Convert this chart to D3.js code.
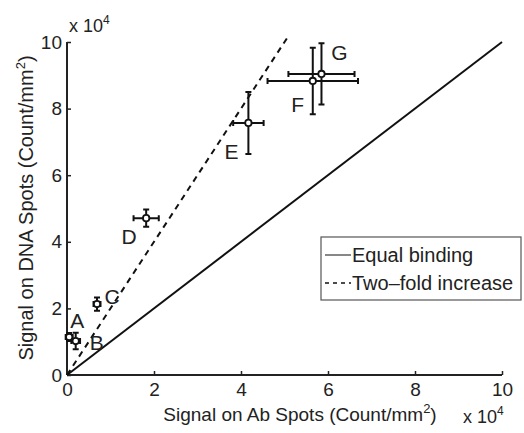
<!DOCTYPE html>
<html>
<head>
<meta charset="utf-8">
<script src="https://cdn.jsdelivr.net/npm/d3@7.9.0/dist/d3.min.js"></script>
<style>
  body { margin: 0; background: #fff; }
  text { font-family: "Liberation Sans", Arial, Helvetica, sans-serif; fill: #222; }
</style>
</head>
<body>
<div id="chart"></div>
<script>
// === Data (units of 1e4 counts/mm^2) ===
const labels = ["A", "B", "C", "D", "E", "F", "G"];
const abSignal = [0.05, 0.2, 0.69, 1.82, 4.17, 5.65, 5.85];
const dnaSignal = [1.14, 1.02, 2.13, 4.71, 7.57, 8.83, 9.04];
const abErr = [0.08, 0.1, 0.08, 0.29, 0.35, 1.04, 0.76];
const dnaErr = [0.12, 0.25, 0.2, 0.26, 0.93, 1.0, 0.92];
const xTicks = [0, 2, 4, 6, 8, 10];
const yTicks = [0, 2, 4, 6, 8, 10];
const equalLine = [[0, 0], [10, 10]];
const twoFoldLine = [[0, 0], [5.1, 10.2]];

// label offsets in px (style, not data)
const labelOffset = [[8, -15], [21, 3], [15, -6], [-17, 20], [-17, 31], [-15, 25], [18, -20]];

// === Chart setup ===
const W = 524, H = 433;
const x = d3.scaleLinear().domain([0, 10]).range([67, 502]);
const y = d3.scaleLinear().domain([0, 10]).range([375, 42]);

const svg = d3.select("#chart").append("svg")
    .attr("width", W).attr("height", H);

// axes (left and bottom only, ticks inward)
const xAxis = d3.axisBottom(x).tickValues(xTicks).tickSize(-4).tickPadding(8).tickFormat(d3.format("d"));
const yAxis = d3.axisLeft(y).tickValues(yTicks).tickSize(-4).tickPadding(5).tickFormat(d3.format("d"));

const gx = svg.append("g").attr("transform", `translate(0,${y(0)})`).call(xAxis);
const gy = svg.append("g").attr("transform", `translate(${x(0)},0)`).call(yAxis);
[gx, gy].forEach(g => {
    g.select(".domain").attr("stroke", "#222").attr("stroke-width", 2);
    g.selectAll(".tick line").attr("stroke", "#222").attr("stroke-width", 1.5);
    g.selectAll(".tick text").attr("font-size", 19).attr("fill", "#222")
        .style("font-family", "'Liberation Sans', Arial, sans-serif");
});
// remove domain end caps
gx.select(".domain").attr("d", `M${x(0)},0H${x(10)}`);
gy.select(".domain").attr("d", `M0,${y(10)}V${y(0)}`);

// reference lines
const line = d3.line().x(d => x(d[0])).y(d => y(d[1]));
svg.append("path").attr("d", line(equalLine))
    .attr("stroke", "#111").attr("stroke-width", 2).attr("fill", "none");
svg.append("path").attr("d", line(twoFoldLine))
    .attr("stroke", "#111").attr("stroke-width", 2).attr("stroke-dasharray", "6,5").attr("fill", "none");

// error bars
const pts = labels.map((l, i) => ({ l, x: abSignal[i], y: dnaSignal[i], ex: abErr[i], ey: dnaErr[i], off: labelOffset[i] }));
const cap = 3;
const eb = svg.append("g").attr("stroke", "#111").attr("stroke-width", 2).attr("fill", "none");
pts.forEach(d => {
    const cx = x(d.x), cy = y(d.y);
    const x0 = x(d.x - d.ex), x1 = x(d.x + d.ex);
    const y0 = y(d.y - d.ey), y1 = y(d.y + d.ey);
    eb.append("path").attr("d",
        `M${x0},${cy}H${x1}M${x0},${cy - cap}V${cy + cap}M${x1},${cy - cap}V${cy + cap}` +
        `M${cx},${y0}V${y1}M${cx - cap},${y0}H${cx + cap}M${cx - cap},${y1}H${cx + cap}`);
});
svg.append("g").selectAll("circle").data(pts).join("circle")
    .attr("cx", d => x(d.x)).attr("cy", d => y(d.y)).attr("r", 3.2)
    .attr("fill", "#fff").attr("stroke", "#111").attr("stroke-width", 1.8);

svg.append("g").selectAll("text").data(pts).join("text")
    .attr("x", d => x(d.x) + d.off[0]).attr("y", d => y(d.y) + d.off[1])
    .attr("text-anchor", "middle").attr("dominant-baseline", "middle")
    .attr("font-size", 21).text(d => d.l);

// legend
const lg = svg.append("g").attr("transform", "translate(321,237)");
lg.append("rect").attr("width", 200).attr("height", 63)
    .attr("fill", "#fff").attr("stroke", "#555").attr("stroke-width", 1.2);
lg.append("line").attr("x1", 4).attr("x2", 30).attr("y1", 18).attr("y2", 18)
    .attr("stroke", "#111").attr("stroke-width", 1);
lg.append("line").attr("x1", 4).attr("x2", 30).attr("y1", 46).attr("y2", 46)
    .attr("stroke", "#111").attr("stroke-width", 1.5).attr("stroke-dasharray", "4,4");
lg.append("text").attr("x", 31).attr("y", 25).attr("font-size", 20).text("Equal binding");
lg.append("text").attr("x", 31).attr("y", 53).attr("font-size", 20).text("Two\u2013fold increase");

// axis labels
svg.append("text").attr("x", 300).attr("y", 421).attr("text-anchor", "middle").attr("font-size", 19)
    .html('Signal on Ab Spots (Count/mm<tspan dy="-8" font-size="13">2</tspan><tspan dy="8">)</tspan>');
svg.append("text").attr("transform", `translate(33,${208}) rotate(-90)`).attr("text-anchor", "middle").attr("font-size", 20)
    .html('Signal on DNA Spots (Count/mm<tspan dy="-8" font-size="13">2</tspan><tspan dy="8">)</tspan>');

// exponent labels
svg.append("text").attr("x", 463).attr("y", 423).attr("font-size", 18)
    .html('x 10<tspan dy="-8" font-size="12">4</tspan>');
svg.append("text").attr("x", 69).attr("y", 32).attr("font-size", 18)
    .html('x 10<tspan dy="-8" font-size="12">4</tspan>');
</script>
</body>
</html>
